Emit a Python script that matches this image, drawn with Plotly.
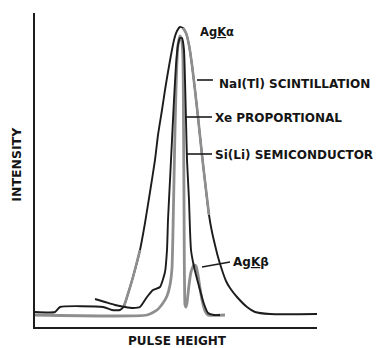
import numpy as np
import plotly.graph_objects as go

# Pulse height (channel, arbitrary units) and intensity (arbitrary units)
nai_x = [0, 20, 25, 68, 77, 85, 89, 92, 98, 105, 110, 115, 120, 123, 127, 130, 133, 136, 139, 142, 145,
         148, 151, 154, 157, 160, 163, 167, 171, 174, 177, 180, 183, 187, 191, 195, 202, 212, 220, 235, 282]
nai_y = [15, 15, 20, 20, 17, 17, 21, 30, 50, 77, 104, 135, 167, 192, 217, 237, 255, 272, 287, 296, 300,
         299, 294, 282, 262, 237, 210, 172, 137, 112, 95, 82, 70, 57, 46, 39, 30, 20, 15, 13, 13]

xe_x = [60, 70, 80, 90, 98, 105, 112, 118, 125, 130, 132, 133, 135, 137, 139, 141, 143, 145, 147,
        149, 150, 151, 152, 154, 155, 156, 158, 161, 165, 169, 173, 179, 185]
xe_y = [28, 25, 22, 20, 19, 20, 30, 37, 40, 55, 77, 107, 147, 187, 227, 262, 282, 289, 289,
        277, 247, 207, 167, 127, 97, 77, 65, 52, 37, 23, 14, 12, 12]

si_x = [0, 112, 122, 128, 132, 135, 137, 138, 139, 140, 141, 142, 143, 145, 147, 148, 148.5, 149,
        149.3, 149.6, 150, 151, 152, 154, 156, 159, 161, 163, 165, 167, 170, 173, 190]
si_y = [12, 12, 17, 24, 31, 42, 59, 97, 147, 197, 237, 267, 282, 291, 285, 267, 207, 127,
        67, 37, 22, 20, 24, 42, 55, 62, 61, 52, 39, 27, 16, 12, 12]

labels = {
    "ka": "Ag<u>K</u>α",
    "nai": "NaI(Tl) SCINTILLATION",
    "xe": "Xe PROPORTIONAL",
    "si": "Si(Li) SEMICONDUCTOR",
    "kb": "Ag<u>K</u>β",
    "xlab": "PULSE HEIGHT",
    "ylab": "INTENSITY",
}

BLACK = "#1c1c1c"
GRAY = "#8e8e8e"


def font(size):
    return dict(family="DejaVu Sans", size=size, color="#151515")


fig = go.Figure()
nx = np.array(nai_x, dtype=float)
ny = np.array(nai_y, dtype=float)

fig.add_trace(go.Scatter(x=si_x, y=si_y, mode="lines",
                         line=dict(color=GRAY, width=2.8, shape="spline", smoothing=0.5)))
fig.add_trace(go.Scatter(x=nai_x, y=nai_y, mode="lines",
                         line=dict(color=BLACK, width=1.9, shape="spline", smoothing=0.5)))
# grey-printed stretches of the NaI curve (as in the scan)
for lo, hi in [(89, 105), (148, 174)]:
    m = (nx >= lo) & (nx <= hi)
    fig.add_trace(go.Scatter(x=nx[m], y=ny[m], mode="lines",
                             line=dict(color=GRAY, width=2.6, shape="spline", smoothing=0.5)))
fig.add_trace(go.Scatter(x=xe_x, y=xe_y, mode="lines",
                         line=dict(color=BLACK, width=1.9, shape="spline", smoothing=0.5)))

# pointer lines
for x0, y0, x1, y1 in [(162, 247, 178, 247), (150, 210, 177, 210), (151, 173, 177, 173),
                       (167, 60, 195, 65)]:
    fig.add_shape(type="line", x0=x0, y0=y0, x1=x1, y1=y1, xref="x", yref="y",
                  line=dict(color=BLACK, width=1.6))

ann = [
    (163, 295, labels["ka"], 11.5),
    (182, 243, labels["nai"], 12),
    (178, 209, labels["xe"], 12),
    (178, 172, labels["si"], 12),
    (196, 65, labels["kb"], 12),
]
for x, y, t, s in ann:
    fig.add_annotation(x=x, y=y, text="<b>" + t + "</b>", showarrow=False,
                       xanchor="left", yanchor="middle", font=font(s))

fig.add_annotation(x=0.505, y=-0.043, xref="paper", yref="paper", text="<b>" + labels["xlab"] + "</b>",
                   showarrow=False, xanchor="center", yanchor="middle", font=font(12))
fig.add_annotation(x=-0.064, y=0.52, xref="paper", yref="paper", text="<b>" + labels["ylab"] + "</b>",
                   showarrow=False, xanchor="center", yanchor="middle", textangle=-90, font=font(12.5))

fig.update_layout(
    width=379, height=348,
    margin=dict(l=35, r=62, t=13, b=21),
    paper_bgcolor="white", plot_bgcolor="white",
    showlegend=False,
)
fig.update_xaxes(range=[0, 282], showgrid=False, zeroline=False, showticklabels=False, ticks="",
                 showline=True, linecolor=BLACK, linewidth=1.6)
fig.update_yaxes(range=[0, 314], showgrid=False, zeroline=False, showticklabels=False, ticks="",
                 showline=True, linecolor=BLACK, linewidth=1.6)

fig.write_html("out.html")
